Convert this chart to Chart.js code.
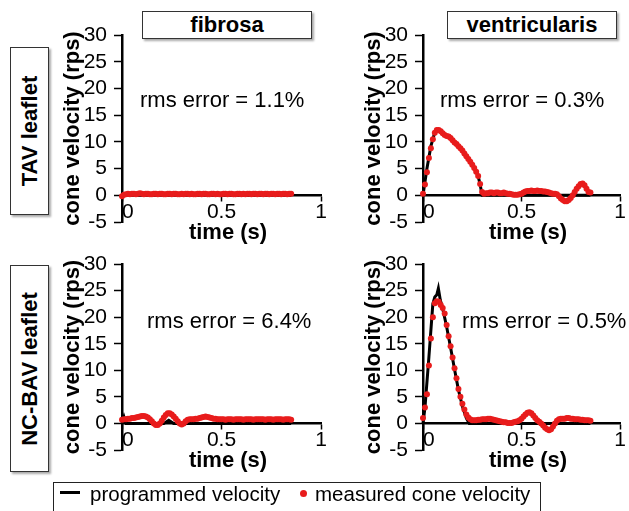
<!DOCTYPE html>
<html>
<head>
<meta charset="utf-8">
<script src="https://cdn.jsdelivr.net/npm/chart.js@4/dist/chart.umd.min.js"></script>
<style>
  body { margin: 0; background: #fff; }
  #fig { position: relative; width: 629px; height: 511px; overflow: hidden; font-family: "Liberation Sans", Arial, sans-serif; color: #000; }
  #fig canvas { position: absolute; }
  .colhead { position: absolute; height: 26px; border: 1px solid #333; box-shadow: 2px 2px 2px #aaa; background: #fff;
             font-weight: bold; font-size: 22px; line-height: 26px; text-align: center; }
  .rowhead { position: absolute; width: 37px; border: 1px solid #333; box-shadow: 2px 2px 2px #aaa; background: #fff; }
  .rowhead span { position: absolute; left: 50%; top: 50%; transform: translate(-50%, -50%) rotate(-90deg);
                  white-space: nowrap; font-weight: bold; font-size: 22px; }
  .rms { position: absolute; font-size: 22px; line-height: 22px; white-space: nowrap; }
  .xtitle { position: absolute; width: 120px; text-align: center; font-weight: bold; font-size: 22px; line-height: 22px; }
  #legend { position: absolute; left: 53px; top: 482px; width: 486px; height: 40px; border: 1.5px solid #222; font-size: 20.5px; }
  #legend .item { position: absolute; top: 0; line-height: 22px; white-space: nowrap; }
</style>
</head>
<body>
<div id="fig">
  <div class="colhead" style="left:142px; top:11px; width:168px;">fibrosa</div>
  <div class="colhead" style="left:447px; top:11px; width:168px;">ventricularis</div>
  <div class="rowhead" style="left:10px; top:47px; height:166px;"><span>TAV leaflet</span></div>
  <div class="rowhead" style="left:10px; top:265px; height:205px;"><span>NC-BAV leaflet</span></div>

  <canvas id="c-tav-fib" width="270" height="215" style="left:60px; top:21px; width:270px; height:215px;"></canvas>
  <canvas id="c-tav-ven" width="268" height="215" style="left:361px; top:21px; width:268px; height:215px;"></canvas>
  <canvas id="c-bav-fib" width="270" height="214" style="left:60px; top:250px; width:270px; height:214px;"></canvas>
  <canvas id="c-bav-ven" width="268" height="214" style="left:361px; top:250px; width:268px; height:214px;"></canvas>

  <div class="rms" style="left:140px; top:89px;">rms error = 1.1%</div>
  <div class="rms" style="left:440px; top:89px;">rms error = 0.3%</div>
  <div class="rms" style="left:147px; top:310px;">rms error = 6.4%</div>
  <div class="rms" style="left:462px; top:310px;">rms error = 0.5%</div>

  <div class="xtitle" style="left:168px; top:221px;">time (s)</div>
  <div class="xtitle" style="left:468px; top:221px;">time (s)</div>
  <div class="xtitle" style="left:168px; top:449px;">time (s)</div>
  <div class="xtitle" style="left:468px; top:449px;">time (s)</div>

  <div id="legend">
    <div style="position:absolute; left:6px; top:8px; width:20px; height:3px; background:#000;"></div>
    <div class="item" style="left:36px;">programmed velocity</div>
    <div style="position:absolute; left:246px; top:7px; width:7px; height:7px; border-radius:50%; background:rgb(232,28,28);"></div>
    <div class="item" style="left:261px;">measured cone velocity</div>
  </div>
</div>

<script>
// measured sample times (s)
const sampleTimes = [
  0.00, 0.01, 0.02, 0.03, 0.04, 0.05, 0.06, 0.07, 0.08, 0.09,
  0.10, 0.11, 0.12, 0.13, 0.14, 0.15, 0.16, 0.17, 0.18, 0.19,
  0.20, 0.21, 0.22, 0.23, 0.24, 0.25, 0.26, 0.27, 0.28, 0.29,
  0.30, 0.31, 0.32, 0.33, 0.34, 0.35, 0.36, 0.37, 0.38, 0.39,
  0.40, 0.41, 0.42, 0.43, 0.44, 0.45, 0.46, 0.47, 0.48, 0.49,
  0.50, 0.51, 0.52, 0.53, 0.54, 0.55, 0.56, 0.57, 0.58, 0.59,
  0.60, 0.61, 0.62, 0.63, 0.64, 0.65, 0.66, 0.67, 0.68, 0.69,
  0.70, 0.71, 0.72, 0.73, 0.74, 0.75, 0.76, 0.77, 0.78, 0.79,
  0.80, 0.81, 0.82, 0.83, 0.84, 0.85
];

// TAV leaflet, fibrosa
const tavFibMeasured = [
  -0.2, 0.1, 0.2, 0.3, 0.2, 0.3, 0.3, 0.2, 0.3, 0.4,
  0.3, 0.2, 0.3, 0.3, 0.2, 0.2, 0.3, 0.3, 0.2, 0.3,
  0.3, 0.2, 0.2, 0.3, 0.3, 0.2, 0.3, 0.3, 0.2, 0.2,
  0.3, 0.2, 0.3, 0.3, 0.2, 0.3, 0.2, 0.2, 0.3, 0.3,
  0.2, 0.3, 0.3, 0.2, 0.2, 0.3, 0.3, 0.2, 0.3, 0.2,
  0.2, 0.3, 0.3, 0.2, 0.3, 0.3, 0.2, 0.2, 0.3, 0.3,
  0.2, 0.3, 0.2, 0.3, 0.3, 0.2, 0.3, 0.3, 0.2, 0.3,
  0.3, 0.2, 0.3, 0.3, 0.2, 0.3, 0.3, 0.2, 0.3, 0.3,
  0.2, 0.3, 0.3, 0.2, 0.3, 0.3
];
const tavFibProgT = [0, 0.85];
const tavFibProgV = [0, 0];

// TAV leaflet, ventricularis
const tavVenMeasured = [
  0.3, 2.0, 4.3, 7.0, 8.8, 10.5, 11.7, 12.2, 12.2, 12.0,
  11.6, 11.3, 11.1, 11.0, 10.7, 10.3, 9.9, 9.6, 9.2, 8.8,
  8.4, 7.8, 7.3, 6.8, 6.3, 5.7, 5.1, 4.4, 3.6, 2.1,
  0.6, 0.3, 0.4, 0.4, 0.5, 0.5, 0.4, 0.5, 0.5, 0.4,
  0.4, 0.5, 0.4, 0.3, 0.3, 0.2, 0.1, 0.1, 0.1, 0.2,
  0.3, 0.5, 0.7, 0.8, 0.8, 0.9, 0.8, 0.8, 0.9, 0.8,
  0.8, 0.7, 0.7, 0.6, 0.5, 0.4, 0.3, 0.3, 0.2, -0.2,
  -0.6, -0.9, -1.1, -1.1, -0.9, -0.5, 0.0, 0.6, 1.2, 1.7,
  2.1, 2.2, 1.9, 1.2, 0.6, 0.5
];
const tavVenProgT = [0, 0.02, 0.04, 0.06, 0.08, 0.10, 0.14, 0.18, 0.22, 0.26, 0.28, 0.29, 0.30, 0.85];
const tavVenProgV = [0, 5.0, 9.2, 11.8, 12.2, 11.6, 10.7, 9.2, 7.3, 5.1, 3.6, 2.0, 0, 0];

// NC-BAV leaflet, fibrosa
const bavFibMeasured = [
  0.7, 0.8, 0.8, 0.9, 0.9, 1.0, 1.0, 1.1, 1.2, 1.3,
  1.4, 1.4, 1.3, 1.1, 0.8, 0.4, 0.0, -0.3, -0.3, 0.0,
  0.5, 1.1, 1.6, 1.9, 1.9, 1.7, 1.3, 0.9, 0.4, 0.0,
  -0.2, 0.0, 0.4, 0.7, 0.8, 0.8, 0.8, 0.9, 0.9, 1.0,
  1.1, 1.2, 1.3, 1.2, 1.1, 1.0, 0.9, 0.9, 0.8, 0.8,
  0.8, 0.8, 0.7, 0.8, 0.8, 0.8, 0.7, 0.8, 0.8, 0.8,
  0.8, 0.7, 0.8, 0.8, 0.8, 0.8, 0.7, 0.8, 0.8, 0.8,
  0.8, 0.8, 0.7, 0.8, 0.8, 0.8, 0.7, 0.8, 0.8, 0.8,
  0.8, 0.7, 0.8, 0.8, 0.8, 0.7
];
const bavFibProgT = [0, 0.01, 0.02, 0.21, 0.235, 0.26, 0.85];
const bavFibProgV = [0, 1.2, 0, 0, 0.6, 0, 0];

// NC-BAV leaflet, ventricularis
const bavVenMeasured = [
  1.0, 3.0, 5.5, 10.9, 16.0, 20.0, 22.6, 23.0, 22.9, 22.3,
  21.7, 20.7, 18.5, 16.4, 14.5, 12.4, 10.4, 8.5, 6.5, 5.0,
  3.7, 2.6, 1.7, 1.1, 0.8, 0.6, 0.6, 0.6, 0.7, 0.7,
  0.8, 0.8, 0.8, 0.9, 0.9, 0.8, 0.7, 0.6, 0.5, 0.4,
  0.3, 0.2, 0.2, 0.1, 0.1, 0.1, 0.2, 0.3, 0.4, 0.6,
  0.9, 1.3, 1.7, 2.0, 2.1, 1.9, 1.5, 1.0, 0.6, 0.3,
  0.0, -0.4, -0.8, -1.1, -1.3, -1.1, -0.6, 0.0, 0.5, 0.8,
  0.9, 0.9, 0.9, 1.0, 1.0, 0.9, 0.9, 0.8, 0.8, 0.8,
  0.7, 0.7, 0.6, 0.6, 0.6, 0.5
];
const bavVenProgT = [0, 0.01, 0.03, 0.05, 0.06, 0.07, 0.078, 0.088, 0.10, 0.12, 0.14, 0.16, 0.18, 0.20, 0.22, 0.235, 0.85];
const bavVenProgV = [0, 3.0, 12.5, 22.5, 23.8, 24.2, 25.4, 23.2, 21.6, 18.2, 14.3, 10.2, 6.3, 3.2, 1.0, 0, 0];

// axis ticks
const yTicks = [-5, 0, 5, 10, 15, 20, 25, 30];
const xTicks = [0, 0.5, 1];
const xTickLabels = ["  0", "0.5", "1"];

const FONT = "'Liberation Sans', Arial, sans-serif";
const RED = "rgb(232,28,28)";

function makePanel(id, measured, progT, progV) {
  const ctx = document.getElementById(id);
  return new Chart(ctx, {
    type: "line",
    data: {
      datasets: [
        {
          label: "measured cone velocity",
          data: sampleTimes.map((t, i) => ({ x: t, y: measured[i] })),
          showLine: false,
          pointRadius: 3,
          pointBorderWidth: 0,
          pointBackgroundColor: RED,
          clip: false
        },
        {
          label: "programmed velocity",
          data: progT.map((t, i) => ({ x: t, y: progV[i] })),
          borderColor: "#000",
          borderWidth: 3,
          pointRadius: 0,
          tension: 0,
          clip: false
        }
      ]
    },
    options: {
      responsive: false,
      animation: false,
      layout: { padding: { left: 0, right: 9, top: 14, bottom: 14 } },
      plugins: { legend: { display: false }, tooltip: { enabled: false } },
      scales: {
        x: {
          type: "linear",
          min: 0,
          max: 1,
          position: { y: 0 },
          // keep the zero-crossing axis from reserving layout space
          afterFit: s => { s.height = 0; s.paddingLeft = 0; s.paddingRight = 0; },
          afterBuildTicks: s => { s.ticks = xTicks.map(v => ({ value: v })); },
          ticks: {
            color: "#000",
            font: { family: FONT, size: 21, lineHeight: 1 },
            padding: 1,
            maxRotation: 0,
            autoSkip: false,
            callback: (v) => xTickLabels[xTicks.indexOf(v)]
          },
          grid: { drawOnChartArea: false, tickLength: 5, tickColor: "#000", tickWidth: 1.5 },
          border: { display: true, color: "#000", width: 2.5 }
        },
        y: {
          type: "linear",
          min: -5,
          max: 30,
          afterFit: s => { s.width = 62; s.paddingTop = 0; s.paddingBottom = 0; },
          afterBuildTicks: s => { s.ticks = yTicks.map(v => ({ value: v })); },
          ticks: { color: "#000", font: { family: FONT, size: 21, lineHeight: 1 }, padding: 7, autoSkip: false },
          grid: { drawOnChartArea: false, tickLength: 8, tickColor: "#000", tickWidth: 1.5 },
          border: { display: true, color: "#000", width: 2.5 },
          title: {
            display: true,
            text: "cone velocity (rps)",
            color: "#000",
            font: { family: FONT, size: 22, weight: "bold" },
            padding: { top: 0, bottom: 0 }
          }
        }
      }
    }
  });
}

makePanel("c-tav-fib", tavFibMeasured, tavFibProgT, tavFibProgV);
makePanel("c-tav-ven", tavVenMeasured, tavVenProgT, tavVenProgV);
makePanel("c-bav-fib", bavFibMeasured, bavFibProgT, bavFibProgV);
makePanel("c-bav-ven", bavVenMeasured, bavVenProgT, bavVenProgV);
</script>
</body>
</html>
